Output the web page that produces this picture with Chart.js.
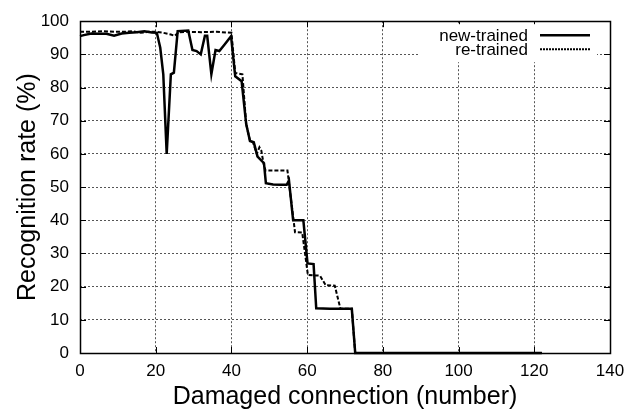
<!DOCTYPE html>
<html>
<head>
<meta charset="utf-8">
<script src="https://cdn.jsdelivr.net/npm/chart.js@4.4.0/dist/chart.umd.min.js"></script>
<style>
  html, body { margin: 0; padding: 0; background: #fff; }
</style>
</head>
<body>
<canvas id="recogChart" width="642" height="409"></canvas>
<script>
// series names
var seriesNames = ['new-trained', 're-trained'];

// new-trained (solid)
var newX = [0, 1, 3, 5, 7, 9, 11, 13, 15, 17, 19, 20.3, 21.2, 22, 22.9, 24, 24.8, 25.8, 28.6, 29.7,
            30.8, 31.9, 33, 33.6, 34.7, 35.8, 36.8, 38.2, 39.9, 41, 42.7, 43.9, 44.9, 45.9, 46.9, 48.6,
            49.1, 51, 53, 54.6, 55.2, 56.3, 59, 60.1, 61.7, 62.4, 66, 69, 71.8, 72.7, 90, 110, 122];
var newY = [95.5, 95.8, 96.3, 96.2, 96.2, 95.6, 96.3, 96.5, 96.7, 97, 96.6, 96.5, 92, 84, 60, 84, 84.5, 97, 97.2, 91.3,
            91, 90, 95.6, 95.6, 84, 91.3, 91, 93, 95.5, 83.4, 81.9, 69, 63.9, 63.5, 59.2, 57.2,
            51.2, 50.8, 50.7, 50.7, 52, 40, 40, 27, 26.8, 13.5, 13.3, 13.3, 13.3, 0, 0, 0, 0];

// re-trained (dashed)
var reX = [0, 3, 6, 9, 12, 14, 16, 18, 20, 22, 24, 25, 26, 28, 32, 36, 40, 41, 42.9, 43.9, 44.9, 45.7,
           46.7, 47.4, 47.9, 48.5, 49, 52, 54.8, 56.8, 58.7, 60.2, 63.4, 64.9, 67.3, 68.8, 71.8, 72.7, 100, 122];
var reY = [96.8, 96.8, 97, 96.8, 96.8, 97, 96.5, 96.8, 96.8, 96.5, 96, 95.6, 96.6, 96.8, 96.7, 96.8, 96.5, 84.4, 84, 69, 64, 63.5,
           60, 62, 61, 57, 55, 55, 55, 36.4, 36.3, 23.5, 23.3, 20.4, 20.3, 13.3, 13.3, 0, 0, 0];

// axis ticks
var xTicks = [0, 20, 40, 60, 80, 100, 120, 140];
var yTicks = [0, 10, 20, 30, 40, 50, 60, 70, 80, 90, 100];

var fontFam = "'Liberation Sans', Arial, Helvetica, sans-serif";

function toPoints(xs, ys) {
  return xs.map(function (x, i) { return { x: x, y: ys[i] }; });
}

// frame, inward ticks and legend box (gnuplot look)
var framePlugin = {
  id: 'frame',
  beforeDraw: function (chart) {
    var c = chart.ctx;
    c.save();
    c.fillStyle = '#fff';
    c.fillRect(0, 0, chart.width, chart.height);
    c.restore();
  },
  afterDraw: function (chart) {
    var c = chart.ctx, a = chart.chartArea;
    var xs = chart.scales.x, ys = chart.scales.y;
    var tl = 6;
    c.save();
    c.strokeStyle = '#000';
    c.lineWidth = 1;
    c.setLineDash([]);
    c.beginPath();
    xTicks.forEach(function (v) {
      var px = Math.round(xs.getPixelForValue(v)) + 0.5;
      c.moveTo(px, a.bottom); c.lineTo(px, a.bottom - tl);
      c.moveTo(px, a.top); c.lineTo(px, a.top + tl);
    });
    yTicks.forEach(function (v) {
      var py = Math.round(ys.getPixelForValue(v)) + 0.5;
      c.moveTo(a.left, py); c.lineTo(a.left + tl, py);
      c.moveTo(a.right, py); c.lineTo(a.right - tl, py);
    });
    c.stroke();
    c.lineWidth = 1.5;
    c.strokeRect(Math.round(a.left) + 0.5, Math.round(a.top) + 0.5,
                 Math.round(a.right - a.left), Math.round(a.bottom - a.top));

    // legend
    var bx = a.right - 190, by = a.top + 3;
    c.fillStyle = '#fff';
    c.fillRect(bx, by, 177, 38);
    c.font = '17px ' + fontFam;
    c.fillStyle = '#000';
    c.textAlign = 'right';
    c.textBaseline = 'middle';
    chart.data.datasets.forEach(function (ds, i) {
      var ty = by + 12 + i * 14;
      c.fillText(ds.label, bx + 108, ty);
      c.beginPath();
      c.lineWidth = ds.borderWidth;
      c.setLineDash(i === 0 ? [] : [2, 1]);
      c.moveTo(bx + 120, ty - 1);
      c.lineTo(bx + 170, ty - 1);
      c.stroke();
    });
    c.restore();
  }
};

new Chart(document.getElementById('recogChart').getContext('2d'), {
  type: 'line',
  data: {
    datasets: [
      {
        label: seriesNames[0],
        data: toPoints(newX, newY),
        borderColor: '#000',
        borderWidth: 2.5,
        pointRadius: 0,
        tension: 0,
        clip: false
      },
      {
        label: seriesNames[1],
        data: toPoints(reX, reY),
        borderColor: '#000',
        borderWidth: 2,
        borderDash: [4, 2],
        pointRadius: 0,
        tension: 0,
        clip: false
      }
    ]
  },
  options: {
    responsive: false,
    animation: false,
    devicePixelRatio: 1,
    layout: { padding: { top: 16, right: 32, left: 0, bottom: 0 } },
    plugins: {
      legend: { display: false },
      tooltip: { enabled: false }
    },
    scales: {
      x: {
        type: 'linear',
        min: 0,
        max: 140,
        afterBuildTicks: function (s) { s.ticks = xTicks.map(function (v) { return { value: v }; }); },
        afterFit: function (s) { s.height = 56; },
        ticks: { color: '#000', font: { family: fontFam, size: 17 }, padding: 8, maxRotation: 0 },
        grid: { color: '#555', lineWidth: 1, drawTicks: false },
        border: { display: false, dash: [2, 2] },
        title: {
          display: true,
          text: 'Damaged connection (number)',
          color: '#000',
          font: { family: fontFam, size: 25 },
          padding: { top: 0, bottom: -3 }
        }
      },
      y: {
        min: 0,
        max: 100,
        afterBuildTicks: function (s) { s.ticks = yTicks.map(function (v) { return { value: v }; }); },
        afterFit: function (s) { s.width = 80; },
        ticks: { color: '#000', font: { family: fontFam, size: 17 }, padding: 11 },
        grid: { color: '#555', lineWidth: 1, drawTicks: false },
        border: { display: false, dash: [2, 2] },
        title: {
          display: true,
          text: 'Recognition rate (%)',
          color: '#000',
          font: { family: fontFam, size: 25 },
          padding: { top: 13, bottom: 0 }
        }
      }
    }
  },
  plugins: [framePlugin]
});
</script>
</body>
</html>
